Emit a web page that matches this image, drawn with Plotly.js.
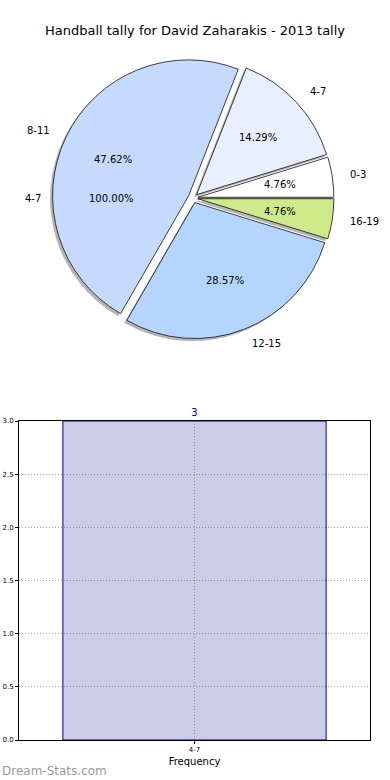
<!DOCTYPE html>
<html>
<head>
<meta charset="utf-8">
<script src="https://cdn.plot.ly/plotly-3.0.1.min.js"></script>
<style>html,body{margin:0;padding:0;background:#fff;}#chart{width:390px;height:780px;}</style>
</head>
<body>
<div id="chart"></div>
<script>
// ---- data ----
var pieLabels = ['0-3', '4-7', '8-11', '12-15', '16-19'];
var pieCounts = [1, 3, 10, 6, 1];
var pieColors = ['#ffffff', '#e8f0ff', '#c6d9ff', '#b4d5ff', '#cfea8a'];
var innerLabels = ['4-7'];
var innerCounts = [3];
var barCategories = ['4-7'];
var barFrequency = [3];
var chartTitle = 'Handball tally for David Zaharakis - 2013 tally';

// ---- geometry (pixels) ----
var W = 390, H = 780;
var cx = 193, cy = 198, R = 136, explode = 0.036, textExplode = 0.05;
function px(x) { return x / W; }
function py(y) { return 1 - y / H; }
var half = R * (1 + explode);
var pieDomain = {x: [px(cx - half), px(cx + half)], y: [py(cy + half), py(cy - half)]};
var shOff = 2.5;
var shadowDomain = {x: [px(cx - half - shOff), px(cx + half - shOff)], y: [py(cy + half + shOff), py(cy - half + shOff)]};
var innerHalf = R;
var innerDomain = {x: [px(cx - innerHalf), px(cx + innerHalf)], y: [py(cy + innerHalf), py(cy - innerHalf)]};

var pulls = pieLabels.map(function () { return explode; });
// Plotly's counterclockwise pies put the first slice clockwise of "rotation";
// shift so the first slice starts at 3 o'clock and runs counterclockwise (matplotlib style).
function sum(a) { return a.reduce(function (p, q) { return p + q; }, 0); }
var mainRotation = 90 - 360 * pieCounts[0] / sum(pieCounts);
var innerRotation = 90 - 360 * innerCounts[0] / sum(innerCounts);

var traces = [
  {
    type: 'pie', labels: innerLabels, values: innerCounts, sort: false,
    direction: 'counterclockwise', rotation: innerRotation, domain: innerDomain,
    marker: {colors: ['#ffffff'], line: {width: 0}}, textinfo: 'none', hoverinfo: 'label+percent',
    showlegend: false
  },
  {
    type: 'pie', labels: pieLabels, values: pieCounts, sort: false,
    direction: 'counterclockwise', rotation: mainRotation, pull: pulls, domain: shadowDomain,
    marker: {colors: pieLabels.map(function () { return 'rgba(70,70,70,0.4)'; }), line: {width: 0}},
    textinfo: 'none', hoverinfo: 'skip', showlegend: false
  },
  {
    type: 'pie', labels: pieLabels, values: pieCounts, sort: false,
    direction: 'counterclockwise', rotation: mainRotation, pull: pulls, domain: pieDomain,
    marker: {colors: pieColors, line: {color: '#111', width: 0.8}},
    textinfo: 'none', hoverinfo: 'label+percent', showlegend: false
  },
  {
    type: 'bar', x: barCategories, y: barFrequency, xaxis: 'x', yaxis: 'y',
    marker: {color: 'rgba(0,0,128,0.2)', line: {color: '#000080', width: 1}},
    text: barFrequency.map(String), textposition: 'outside', cliponaxis: false,
    textfont: {family: 'DejaVu Sans', size: 10, color: '#000080'},
    showlegend: false
  }
];

// ---- annotations for pie labels / percentages (matplotlib-like placement) ----
var annotations = [];
function addPieText(labels, counts, expl) {
  var total = sum(counts);
  var cum = 0;
  for (var i = 0; i < counts.length; i++) {
    var mid = (cum + counts[i] / 2) / total * 2 * Math.PI;
    cum += counts[i];
    var c = Math.cos(mid), s = Math.sin(mid);
    var lx = cx + (1.1 + expl) * R * c, ly = cy - (1.1 + expl) * R * s;
    annotations.push({
      xref: 'paper', yref: 'paper', x: px(lx), y: py(ly), text: labels[i], showarrow: false,
      xanchor: c > 0 ? 'left' : 'right', yanchor: 'middle',
      font: {family: 'DejaVu Sans', size: 10, color: '#000'}
    });
    var tx = cx + (0.6 + expl) * R * c, ty = cy - (0.6 + expl) * R * s;
    annotations.push({
      xref: 'paper', yref: 'paper', x: px(tx), y: py(ty),
      text: (counts[i] / total * 100).toFixed(2) + '%', showarrow: false,
      xanchor: 'center', yanchor: 'middle',
      font: {family: 'DejaVu Sans', size: 10, color: '#000'}
    });
  }
}
addPieText(pieLabels, pieCounts, textExplode);
addPieText(innerLabels, innerCounts, 0);

annotations.push({
  xref: 'paper', yref: 'paper', x: 0, y: py(771), text: 'Dream-Stats.com', showarrow: false,
  xanchor: 'left', yanchor: 'middle',
  font: {family: 'DejaVu Sans', size: 12, color: '#9a9a9a'}
});

var layout = {
  width: W, height: H,
  margin: {l: 0, r: 0, t: 0, b: 0},
  paper_bgcolor: '#fff', plot_bgcolor: 'rgba(0,0,0,0)',
  title: {text: chartTitle, x: 0.5, xanchor: 'center', xref: 'paper', y: py(30), yanchor: 'middle', yref: 'paper',
    font: {family: 'DejaVu Sans', size: 13, color: '#000'}},
  showlegend: false,
  bargap: 0.25,
  xaxis: {
    domain: [px(19), px(370)], anchor: 'y', type: 'category', range: [-0.5, 0.5],
    showline: true, mirror: true, linecolor: '#000', linewidth: 1,
    showgrid: true, gridcolor: '#a8a8a8', griddash: '1px,2px', gridwidth: 1,
    ticks: 'outside', ticklen: 3, tickcolor: '#000',
    tickfont: {family: 'DejaVu Sans', size: 7, color: '#000'},
    title: {text: 'Frequency', font: {family: 'DejaVu Sans', size: 10, color: '#000'}, standoff: 4},
    zeroline: false, fixedrange: true
  },
  yaxis: {
    domain: [py(740), py(421)], anchor: 'x', range: [0, 3], dtick: 0.5, tickformat: '.1f',
    showline: true, mirror: true, linecolor: '#000', linewidth: 1,
    showgrid: true, gridcolor: '#a8a8a8', griddash: '1px,2px', gridwidth: 1,
    ticks: 'outside', ticklen: 3, tickcolor: '#000',
    tickfont: {family: 'DejaVu Sans', size: 7, color: '#000'},
    zeroline: false, fixedrange: true
  },
  annotations: annotations
};

Plotly.newPlot('chart', traces, layout, {displayModeBar: false, staticPlot: true});
</script>
</body>
</html>
